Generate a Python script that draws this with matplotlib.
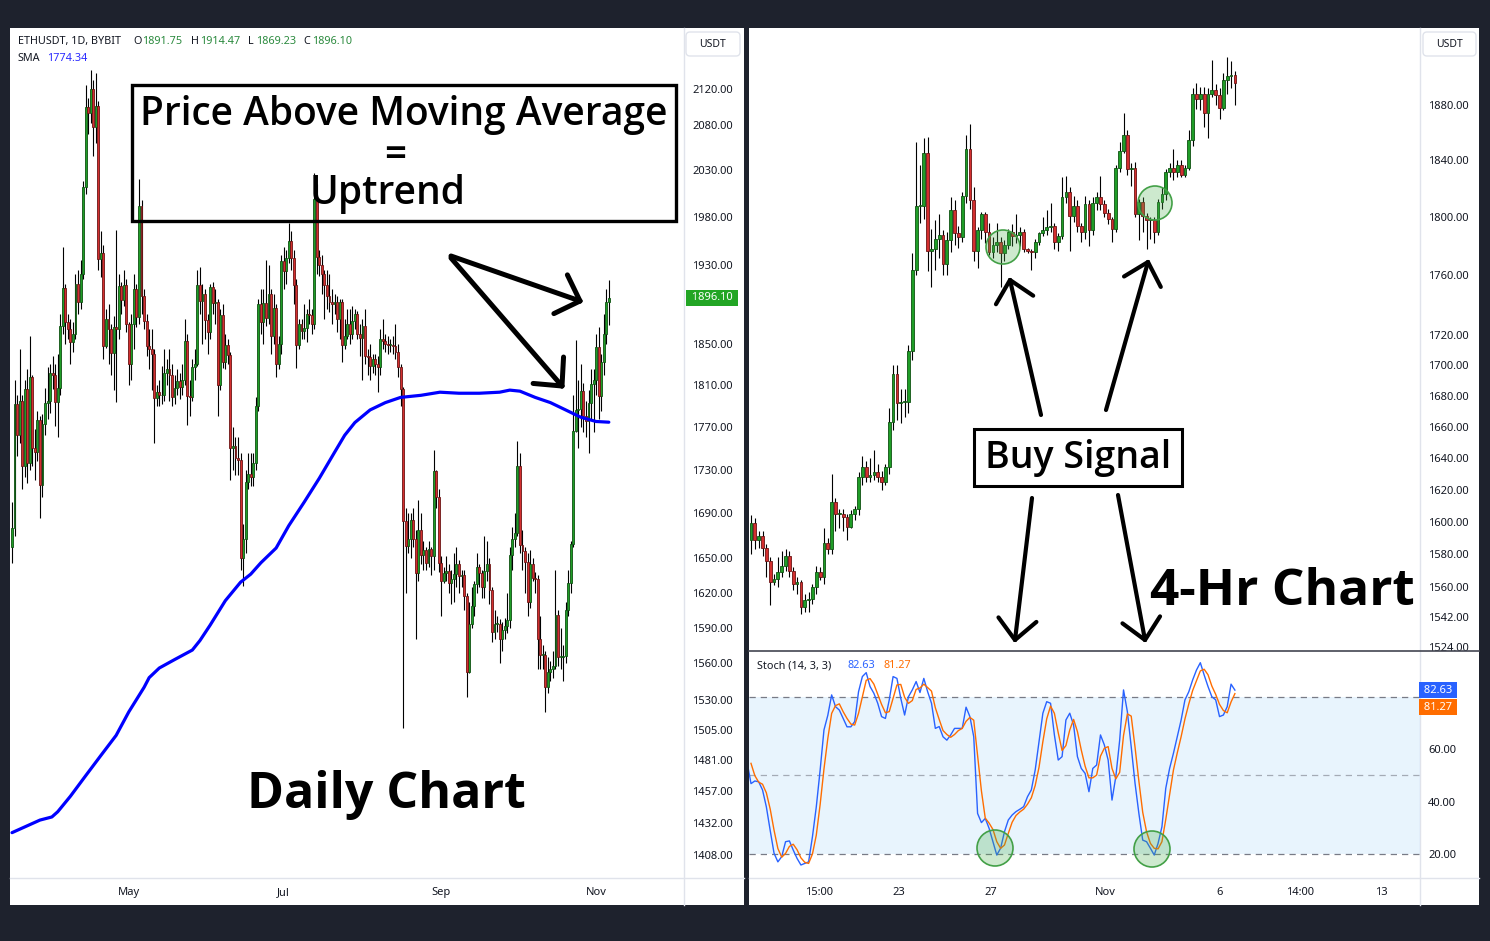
import numpy as np
import pandas as pd
import matplotlib
matplotlib.use("Agg")
import matplotlib.pyplot as plt
from matplotlib.patches import Rectangle, Circle, FancyBboxPatch

plt.rcParams['font.family'] = ['Noto Sans', 'DejaVu Sans']

# ---------------- daily ETHUSDT (Mar 16 .. Nov 6) ----------------
d_first_open = 1660
d_close = [1677, 1792, 1762, 1795, 1733, 1806, 1736, 1818, 1750, 1746,
           1776, 1716, 1773, 1793, 1795, 1822, 1820, 1794, 1807, 1868,
           1906, 1872, 1865, 1852, 1860, 1910, 1892, 1920, 2012, 2100,
           2093, 2120, 2077, 2101, 1936, 1942, 1848, 1875, 1865, 1841,
           1867, 1865, 1908, 1894, 1909, 1870, 1830, 1870, 1905, 1877,
           1992, 1898, 1873, 1848, 1845, 1840, 1797, 1803, 1800, 1800,
           1822, 1825, 1820, 1798, 1807, 1814, 1808, 1815, 1853, 1799,
           1798, 1827, 1830, 1909, 1893, 1900, 1874, 1862, 1907, 1891,
           1892, 1810, 1879, 1832, 1849, 1839, 1750, 1752, 1741, 1739,
           1650, 1667, 1719, 1726, 1723, 1736, 1790, 1890, 1872, 1891,
           1876, 1900, 1858, 1886, 1830, 1850, 1934, 1924, 1937, 1955,
           1937, 1909, 1849, 1870, 1863, 1866, 1880, 1879, 1870, 1999,
           1938, 1930, 1920, 1909, 1898, 1892, 1890, 1892, 1875, 1892,
           1849, 1858, 1870, 1860, 1873, 1880, 1860, 1856, 1868, 1838,
           1837, 1828, 1835, 1830, 1827, 1855, 1853, 1850, 1849, 1849,
           1848, 1842, 1827, 1806, 1683, 1661, 1667, 1684, 1667, 1637,
           1675, 1653, 1657, 1646, 1658, 1652, 1729, 1705, 1646, 1630,
           1637, 1639, 1628, 1632, 1636, 1645, 1634, 1635, 1617, 1553,
           1593, 1608, 1627, 1642, 1637, 1625, 1639, 1645, 1622, 1586,
           1593, 1593, 1580, 1588, 1591, 1596, 1653, 1667, 1672, 1733,
           1662, 1656, 1647, 1612, 1645, 1633, 1632, 1580, 1567, 1567,
           1540, 1553, 1555, 1558, 1601, 1565, 1565, 1566, 1605, 1628,
           1663, 1766, 1786, 1787, 1804, 1780, 1775, 1793, 1811, 1815,
           1847, 1799, 1832, 1860, 1891.75, 1896.10]
d_high = [1700, 1815, 1800, 1845, 1800, 1815, 1825, 1858, 1820, 1768,
          1785, 1780, 1782, 1807, 1827, 1830, 1838, 1830, 1840, 1880,
          1948, 1910, 1880, 1875, 1872, 1920, 1925, 1935, 2018, 2125,
          2110, 2142, 2130, 2138, 2107, 1965, 1950, 1885, 1890, 1870,
          1878, 1966, 1920, 1912, 1925, 1915, 1872, 1880, 1920, 1910,
          2020, 1998, 1905, 1880, 1865, 1865, 1845, 1810, 1815, 1828,
          1845, 1835, 1845, 1830, 1820, 1825, 1822, 1830, 1875, 1860,
          1815, 1835, 1845, 1925, 1928, 1910, 1905, 1880, 1910, 1912,
          1905, 1895, 1885, 1890, 1860, 1855, 1842, 1770, 1760, 1760,
          1745, 1680, 1730, 1745, 1745, 1745, 1798, 1895, 1905, 1905,
          1935, 1930, 1905, 1900, 1890, 1858, 1940, 1948, 1945, 1974,
          1965, 1945, 1915, 1875, 1875, 1890, 1885, 1895, 1885, 2027,
          2015, 1945, 1940, 1925, 1925, 1920, 1905, 1900, 1898, 1895,
          1895, 1875, 1885, 1885, 1888, 1885, 1883, 1870, 1875, 1885,
          1845, 1850, 1840, 1840, 1838, 1865, 1875, 1860, 1858, 1855,
          1858, 1870, 1850, 1830, 1808, 1695, 1690, 1690, 1695, 1675,
          1702, 1690, 1665, 1660, 1665, 1660, 1748, 1730, 1712, 1652,
          1642, 1652, 1645, 1640, 1655, 1660, 1648, 1640, 1640, 1620,
          1612, 1625, 1630, 1655, 1645, 1640, 1670, 1665, 1650, 1625,
          1605, 1600, 1597, 1595, 1598, 1620, 1660, 1678, 1690, 1757,
          1745, 1675, 1660, 1655, 1657, 1650, 1638, 1635, 1600, 1575,
          1570, 1565, 1562, 1570, 1640, 1605, 1590, 1575, 1612, 1640,
          1665, 1800, 1854, 1815, 1830, 1812, 1795, 1805, 1825, 1825,
          1860, 1867, 1840, 1880, 1905, 1914.47]
d_low = [1646, 1670, 1743, 1755, 1712, 1723, 1718, 1730, 1733, 1720,
         1738, 1686, 1705, 1762, 1777, 1783, 1806, 1771, 1760, 1800,
         1860, 1850, 1855, 1830, 1842, 1855, 1880, 1885, 1915, 2004,
         2070, 2082, 2045, 2060, 1925, 1917, 1835, 1846, 1830, 1820,
         1805, 1794, 1855, 1880, 1888, 1862, 1810, 1815, 1845, 1867,
         1870, 1880, 1865, 1838, 1825, 1805, 1755, 1790, 1790, 1792,
         1795, 1810, 1795, 1790, 1792, 1800, 1796, 1800, 1810, 1772,
         1780, 1795, 1815, 1828, 1880, 1850, 1855, 1840, 1855, 1880,
         1870, 1780, 1805, 1826, 1825, 1830, 1720, 1730, 1725, 1725,
         1640, 1626, 1655, 1712, 1715, 1715, 1730, 1785, 1860, 1850,
         1868, 1870, 1840, 1850, 1818, 1825, 1840, 1905, 1910, 1932,
         1925, 1890, 1826, 1845, 1855, 1855, 1852, 1870, 1860, 1865,
         1920, 1918, 1900, 1875, 1885, 1882, 1870, 1880, 1862, 1855,
         1832, 1845, 1855, 1850, 1855, 1865, 1855, 1838, 1815, 1830,
         1820, 1815, 1822, 1820, 1803, 1820, 1845, 1842, 1840, 1842,
         1840, 1835, 1818, 1790, 1507, 1620, 1655, 1650, 1660, 1580,
         1630, 1645, 1640, 1640, 1642, 1635, 1640, 1695, 1638, 1600,
         1628, 1630, 1620, 1610, 1612, 1625, 1620, 1625, 1605, 1532,
         1552, 1590, 1600, 1620, 1625, 1615, 1615, 1630, 1610, 1578,
         1580, 1586, 1560, 1570, 1580, 1585, 1590, 1640, 1660, 1670,
         1655, 1640, 1620, 1600, 1607, 1630, 1620, 1555, 1555, 1555,
         1520, 1535, 1545, 1548, 1555, 1558, 1555, 1545, 1560, 1600,
         1620, 1660, 1765, 1750, 1770, 1765, 1760, 1745, 1777, 1765,
         1800, 1777, 1785, 1820, 1850, 1869.23]

# SMA (day index, value)
sma_day = [0, 11, 15.7, 18, 23, 29, 35, 41, 46, 52, 54, 58, 64, 71, 74, 78, 84,
           90, 94, 98, 104, 109, 115, 121, 127, 131, 135, 141, 147, 153, 161,
           168.5, 176, 184, 192, 196, 200, 206, 212, 218, 224, 230, 235]
sma_val = [1425, 1434.6, 1437, 1441, 1453, 1469, 1485, 1501, 1520, 1540, 1548,
           1556, 1563, 1571, 1579, 1592, 1613, 1629, 1636, 1646, 1659, 1679,
           1700, 1722, 1746, 1762, 1774, 1786, 1793, 1798, 1800, 1803, 1802,
           1802, 1803, 1805, 1804, 1798, 1793, 1786, 1779, 1775, 1774.34]

month_pos = [46, 107, 169, 230]
month_lab = ['May', 'Jul', 'Sep', 'Nov']
left_ticks = [2120, 2080, 2030, 1980, 1930, 1850, 1810, 1770, 1730, 1690,
              1650, 1620, 1590, 1560, 1530, 1505, 1481, 1457, 1432, 1408]

# ---------------- 4h ETHUSDT ----------------
h4_first_open = 1589
h4_close = [1599, 1589, 1591, 1584, 1576, 1563, 1565, 1569, 1573, 1579,
            1570, 1562, 1563, 1548, 1552, 1553, 1560, 1569, 1566, 1587,
            1583, 1612, 1605, 1605, 1603, 1597, 1605, 1608, 1628, 1634,
            1628, 1629, 1631, 1628, 1625, 1634, 1663, 1694, 1675, 1676,
            1676, 1709, 1764, 1808, 1808, 1845, 1777, 1778, 1785, 1788,
            1768, 1784, 1805, 1789, 1786, 1815, 1848, 1812, 1777, 1791,
            1802, 1790, 1776, 1781, 1783, 1775, 1781, 1790, 1787, 1788,
            1790, 1778, 1777, 1776, 1783, 1789, 1791, 1793, 1794, 1783,
            1787, 1814, 1818, 1801, 1808, 1794, 1790, 1809, 1791, 1810,
            1814, 1809, 1803, 1799, 1792, 1835, 1847, 1858, 1834, 1835,
            1802, 1811, 1801, 1798, 1798, 1790, 1811, 1816, 1832, 1835,
            1832, 1837, 1830, 1835, 1855, 1888, 1884, 1888, 1874, 1888,
            1891, 1887, 1878, 1898, 1901, 1902, 1896]
h4_high = [1604, 1602, 1594, 1594, 1586, 1578, 1568, 1578, 1582, 1583,
           1582, 1572, 1566, 1564, 1556, 1557, 1562, 1573, 1572, 1596,
           1590, 1630, 1615, 1608, 1608, 1605, 1607, 1610, 1631, 1641,
           1638, 1640, 1645, 1636, 1632, 1636, 1672, 1700, 1700, 1684,
           1684, 1713, 1775, 1853, 1837, 1856, 1857, 1792, 1798, 1802,
           1791, 1790, 1814, 1812, 1794, 1818, 1858, 1866, 1821, 1793,
           1804, 1804, 1796, 1786, 1796, 1786, 1784, 1792, 1795, 1802,
           1793, 1792, 1779, 1778, 1785, 1790, 1800, 1805, 1810, 1796,
           1789, 1828, 1829, 1821, 1815, 1812, 1796, 1815, 1812, 1814,
           1818, 1829, 1812, 1806, 1800, 1837, 1853, 1874, 1862, 1838,
           1839, 1813, 1814, 1803, 1800, 1800, 1813, 1821, 1834, 1838,
           1848, 1840, 1840, 1837, 1862, 1892, 1896, 1893, 1893, 1892,
           1913, 1895, 1892, 1903, 1915, 1912, 1905]
h4_low = [1580, 1583, 1584, 1579, 1566, 1549, 1561, 1560, 1566, 1570,
          1566, 1558, 1556, 1544, 1545, 1545, 1550, 1556, 1564, 1562,
          1580, 1580, 1594, 1596, 1594, 1589, 1596, 1601, 1604, 1623,
          1625, 1625, 1626, 1625, 1620, 1623, 1630, 1658, 1664, 1662,
          1666, 1669, 1703, 1760, 1796, 1799, 1763, 1752, 1764, 1772,
          1760, 1760, 1776, 1781, 1779, 1783, 1810, 1806, 1770, 1765,
          1785, 1782, 1774, 1772, 1776, 1752, 1770, 1778, 1780, 1782,
          1780, 1776, 1775, 1764, 1772, 1781, 1787, 1788, 1790, 1778,
          1777, 1785, 1810, 1777, 1797, 1790, 1783, 1785, 1780, 1788,
          1805, 1805, 1800, 1795, 1783, 1790, 1832, 1845, 1830, 1822,
          1800, 1784, 1790, 1778, 1785, 1782, 1788, 1806, 1812, 1828,
          1826, 1828, 1828, 1828, 1833, 1850, 1877, 1876, 1864, 1856,
          1886, 1880, 1870, 1876, 1888, 1892, 1880]

# Stochastic %K (first two values are bars just left of the visible range)
stoch_k = [62, 55,
           46.9, 47.9, 47.6, 44.5, 38, 29, 20.3, 17, 19, 24.7,
           25, 21.5, 18.3, 15.8, 16.4, 17, 26.6, 38, 52, 67.4,
           73, 80.8, 76.3, 75, 71.8, 68.6, 68.6, 70.6, 82, 87.8,
           89.3, 84, 81.4, 77.6, 72.5, 71.8, 78.9, 87.8, 87.1, 79.5,
           73.1, 80.1, 82.7, 85.9, 81.7, 87.1, 82, 77.6, 68, 68.7,
           64.8, 63.5, 65.5, 68, 68, 68, 76.1, 72.5, 64.8, 35.5,
           32, 33.6, 29.8, 24.7, 19.6, 22.2, 28.5, 33, 34.9, 36.2,
           37.1, 38.1, 41.9, 44.5, 52.1, 62.9, 73.8, 78.2, 77.6, 65.5,
           55.9, 57.2, 71.2, 73.8, 69.3, 57.2, 52.7, 50.8, 43.8, 52.7,
           54, 65.5, 61.7, 55.9, 40.6, 49.6, 63.5, 82.7, 74.4, 61,
           47, 35.5, 25.3, 24.7, 22.2, 19.6, 24.1, 30.4, 45.1, 52.7,
           58.5, 64.8, 71.2, 78.9, 82, 86.5, 90.3, 93.1, 88.4, 84,
           80.1, 78.9, 72.5, 73.1, 76.28, 84.9, 82.63]

h4_tick_pos = [17.7, 38.5, 62.5, 92.2, 122.1, 143.0, 164.1]
h4_tick_lab = ['15:00', '23', '27', 'Nov', '6', '14:00', '13']
right_ticks = [1880, 1840, 1800, 1760, 1720, 1700, 1680, 1660, 1640, 1620,
               1600, 1580, 1560, 1542, 1524]
stoch_ticks = [60, 40, 20]

TXT = '#131722'
GRID = '#e0e3eb'
UP, UP_E = '#1f9d27', '#0f5212'
DN, DN_E = '#d32f2f', '#6b1414'

W, H = 1490, 941
fig = plt.figure(figsize=(W / 100, H / 100), dpi=100)
fig.patch.set_facecolor('#1e222d')


def fbox(x0, y0, x1, y1):
    return [x0 / W, 1 - y1 / H, (x1 - x0) / W, (y1 - y0) / H]


def clean(ax):
    ax.patch.set_alpha(0)
    for s in ax.spines.values():
        s.set_visible(False)
    ax.tick_params(length=0, labelsize=8, labelcolor=TXT)


def candles(ax, first_open, close, high, low, w):
    c = np.array(close, float)
    o = np.concatenate([[first_open], c[:-1]])
    x = np.arange(len(c))
    up = c >= o
    ax.vlines(x, low, high, color='black', lw=0.8, zorder=2)
    bot = np.minimum(o, c)
    hgt = np.maximum(np.abs(c - o), 0.6)
    ax.bar(x[up], hgt[up], w, bot[up], color=UP, edgecolor=UP_E, lw=0.6, zorder=3)
    ax.bar(x[~up], hgt[~up], w, bot[~up], color=DN, edgecolor=DN_E, lw=0.6, zorder=3)


# background panels
bg = fig.add_axes([0, 0, 1, 1], zorder=0)
bg.set_xlim(0, W)
bg.set_ylim(H, 0)
bg.axis('off')
bg.add_patch(Rectangle((10, 28), 734, 877, fc='white', ec='none'))
bg.add_patch(Rectangle((749, 28), 730, 877, fc='white', ec='none'))
bg.plot([684, 684], [28, 905], color=GRID, lw=1)
bg.plot([10, 744], [878, 878], color=GRID, lw=1)
bg.plot([1420, 1420], [28, 905], color=GRID, lw=1)
bg.plot([749, 1479], [878, 878], color=GRID, lw=1)

# ---- left: daily ----
axL = fig.add_axes(fbox(10, 28, 684, 878), zorder=1)
clean(axL)
candles(axL, d_first_open, d_close, d_high, d_low, 0.75)
axL.plot(sma_day, sma_val, color='#0000ff', lw=2.3, zorder=4,
         solid_capstyle='round', solid_joinstyle='round')
axL.set_yscale('log')
axL.set_ylim(1390.9, 2190.2)
axL.set_xlim(-0.79, 264.6)
axL.yaxis.tick_right()
axL.set_yticks(left_ticks, [f'{v:.2f}' for v in left_ticks])
axL.yaxis.set_minor_locator(matplotlib.ticker.NullLocator())
axL.set_xticks(month_pos, month_lab)
axL.tick_params(axis='y', pad=5.8)
axL.tick_params(axis='x', pad=6.5)
axL.text(1.0 + 28 / 674, d_close[-1], f' {d_close[-1]:.2f} ', transform=axL.get_yaxis_transform(),
         ha='center', va='center', fontsize=8, color='white', weight='bold',
         bbox=dict(boxstyle='square,pad=0.22', fc='#22a524', ec='none'), zorder=6,
         clip_on=False)

# ---- right: 4h price ----
axR = fig.add_axes(fbox(749, 28, 1420, 651), zorder=1)
clean(axR)
candles(axR, h4_first_open, h4_close, h4_high, h4_low, 0.72)
axR.set_yscale('log')
axR.set_ylim(1521.9, 1936.8)
axR.set_xlim(-0.52, 174.2)
axR.yaxis.tick_right()
axR.set_yticks(right_ticks, [f'{v:.2f}' for v in right_ticks])
axR.yaxis.set_minor_locator(matplotlib.ticker.NullLocator())
axR.set_xticks([])
axR.tick_params(axis='y', pad=5.8)

# ---- right: stochastic ----
axS = fig.add_axes(fbox(749, 651, 1420, 878), zorder=1)
clean(axS)
k = pd.Series(stoch_k)
d = k.rolling(3).mean()
xs = np.arange(len(k)) - 2
axS.axhspan(20, 80, color='#2196f3', alpha=0.1, lw=0)
for lv, a in ((80, 1.0), (50, 0.6), (20, 1.0)):
    axS.axhline(lv, color='#787b86', lw=0.9, ls=(0, (5, 4)), alpha=a)
axS.plot(xs, k, color='#2962ff', lw=1.0)
axS.plot(xs, d, color='#ff6d00', lw=1.0)
axS.set_ylim(10.83, 97.57)
axS.set_xlim(-0.52, 174.2)
axS.yaxis.tick_right()
axS.set_yticks(stoch_ticks, [f'{v:.2f}' for v in stoch_ticks])
axS.set_xticks(h4_tick_pos, h4_tick_lab)
axS.tick_params(axis='y', pad=5.8)
axS.tick_params(axis='x', pad=6.5)
k_last, d_last = k.iloc[-1], d.iloc[-1]
axS.annotate(f' {k_last:.2f} ', xy=(1.0, k_last), xycoords=axS.get_yaxis_transform(),
             xytext=(1, 0), textcoords='offset pixels', ha='left', va='center',
             fontsize=8, color='white', annotation_clip=False,
             bbox=dict(boxstyle='square,pad=0.2', fc='#2962ff', ec='none'))
axS.annotate(f' {d_last:.2f} ', xy=(1.0, k_last), xycoords=axS.get_yaxis_transform(),
             xytext=(1, -17), textcoords='offset pixels', ha='left', va='center',
             fontsize=8, color='white', annotation_clip=False,
             bbox=dict(boxstyle='square,pad=0.2', fc='#ff6d00', ec='none'))

# ---- overlay: legends, annotations ----
ov = fig.add_axes([0, 0, 1, 1], zorder=5)
ov.set_xlim(0, W)
ov.set_ylim(H, 0)
ov.axis('off')

ov.plot([749, 1479], [651, 651], color='#434651', lw=1.2)

for x0, x1 in ((686, 740), (1423, 1476)):
    ov.add_patch(FancyBboxPatch((x0, 32), x1 - x0, 24, boxstyle='round,pad=0,rounding_size=4',
                                fc='white', ec=GRID, lw=1))
    ov.text((x0 + x1) / 2, 44.5, 'USDT', ha='center', va='center', fontsize=7.5, color=TXT)

hdr = [(18, 'ETHUSDT, 1D, BYBIT', TXT), (133, 'O', TXT), (142, '1891.75', '#2b8a3e'),
       (191, 'H', TXT), (200, '1914.47', '#2b8a3e'), (248, 'L', TXT), (256, '1869.23', '#2b8a3e'),
       (303, 'C', TXT), (312, '1896.10', '#2b8a3e')]
for x, s, col in hdr:
    ov.text(x, 41.5, s, ha='left', va='center', fontsize=7.8, color=col)
ov.text(18, 58.5, 'SMA', ha='left', va='center', fontsize=7.8, color=TXT)
ov.text(47, 58.5, f'{sma_val[-1]:.2f}', ha='left', va='center', fontsize=7.8, color='#2a2aff')

ov.text(757, 665.5, 'Stoch (14, 3, 3)', ha='left', va='center', fontsize=7.8, color=TXT)
ov.text(847, 665.5, f'{k_last:.2f}', ha='left', va='center', fontsize=7.8, color='#2962ff')
ov.text(884, 665.5, f'{d_last:.2f}', ha='left', va='center', fontsize=7.8, color='#ff6d00')

big = ['Open Sans', 'DejaVu Sans']
ov.add_patch(Rectangle((132, 85), 544, 136, fc='none', ec='black', lw=2.4))
ov.text(404, 115, 'Price Above Moving Average', ha='center', va='center', fontsize=28,
        family=big, weight='semibold')
ov.text(395, 156, '=', ha='center', va='center', fontsize=28, family=big, weight='semibold')
ov.text(388, 194, 'Uptrend', ha='center', va='center', fontsize=28, family=big, weight='semibold')
ov.text(386, 795, 'Daily Chart', ha='center', va='center', fontsize=36, family=big, weight='bold')

ov.add_patch(Rectangle((974, 429), 208, 57, fc='white', ec='black', lw=2.2))
ov.text(1078, 458, 'Buy Signal', ha='center', va='center', fontsize=27, family=big,
        weight='semibold')
ov.text(1282, 592, '4-Hr Chart', ha='center', va='center', fontsize=37, family=big, weight='bold')


def arrow(x0, y0, x1, y1, lw, L=28, spread=43):
    ov.plot([x0, x1], [y0, y1], color='black', lw=lw, solid_capstyle='round')
    ang = np.arctan2(y0 - y1, x0 - x1)
    for s in (-1, 1):
        a = ang + s * np.radians(spread)
        ov.plot([x1, x1 + L * np.cos(a)], [y1, y1 + L * np.sin(a)], color='black', lw=lw,
                solid_capstyle='round')


arrow(451, 256, 580, 301, 3.6, L=29, spread=45)
arrow(451, 258, 562, 386, 3.6, L=29, spread=44)
arrow(1041, 415, 1010, 280, 3.0)
arrow(1106, 410, 1148, 262, 3.0)
arrow(1032, 498, 1015, 640, 3.0)
arrow(1118, 495, 1145, 640, 3.0)

for cx, cy, r in ((1003, 247, 17), (1155, 203, 17), (995, 848, 18), (1152, 849, 18)):
    ov.add_patch(Circle((cx, cy), r, fc=(0.30, 0.69, 0.31, 0.28), ec='#43a047', lw=1.2))

fig.savefig('out.png', dpi=100, facecolor=fig.get_facecolor())
